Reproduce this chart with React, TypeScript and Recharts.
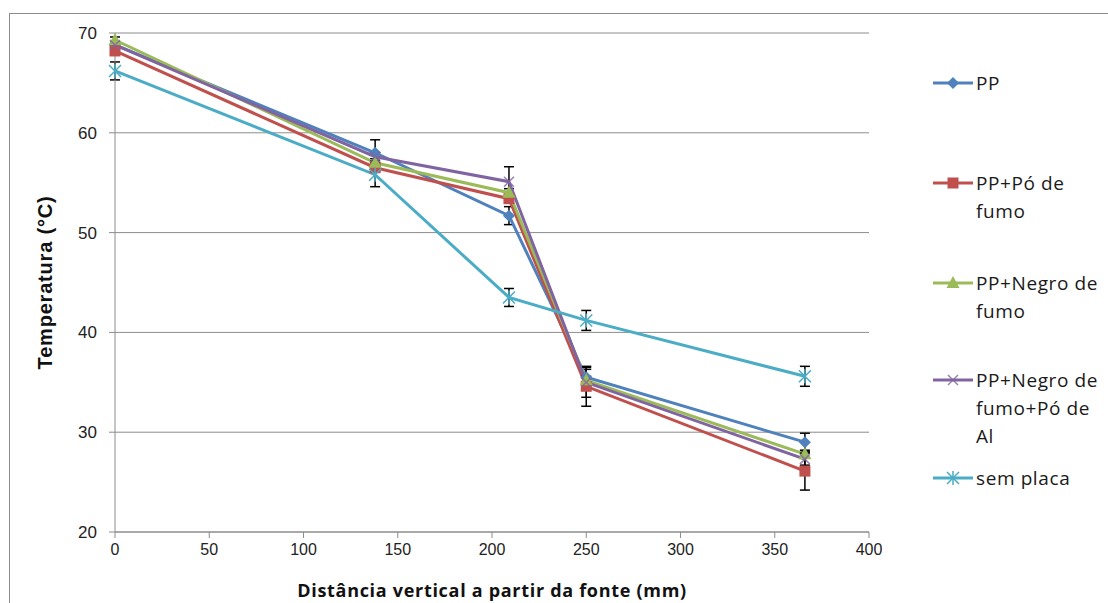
import React from 'react'
import {
  LineChart,
  Line,
  XAxis,
  YAxis,
  CartesianGrid,
  ErrorBar,
} from 'recharts'

const distances = [0, 138, 209, 250, 366]

const pp = [68.8, 58.0, 51.7, 35.5, 29.0]
const ppPo = [68.2, 56.5, 53.4, 34.6, 26.1]
const ppNegro = [69.3, 57.0, 54.0, 35.2, 27.8]
const ppNegroAl = [68.8, 57.6, 55.1, 35.0, 27.3]
const semPlaca = [66.2, 55.8, 43.5, 41.2, 35.6]

const ppErr = [0.3, 1.3, 0.9, 0.8, 0.9]
const ppPoErr = [0.3, 0.4, 0.4, 2.0, 1.9]
const ppNegroErr = [0.3, 0.4, 0.4, 0.4, 0.4]
const ppNegroAlErr = [0.3, 0.4, 1.5, 1.5, 0.6]
const semPlacaErr = [0.9, 1.2, 0.9, 1.0, 1.0]

const xTicks = [0, 50, 100, 150, 200, 250, 300, 350, 400]
const yTicks = [20, 30, 40, 50, 60, 70]

const SERIES = [
  { key: 'pp', label: 'PP', color: '#4F81BD', marker: 'diamond', values: pp, err: ppErr, top: 69 },
  { key: 'ppPo', label: 'PP+Pó de\nfumo', color: '#C0504D', marker: 'square', values: ppPo, err: ppPoErr, top: 169 },
  { key: 'ppNegro', label: 'PP+Negro de\nfumo', color: '#9BBB59', marker: 'triangle', values: ppNegro, err: ppNegroErr, top: 269 },
  { key: 'ppNegroAl', label: 'PP+Negro de\nfumo+Pó de\nAl', color: '#8064A2', marker: 'cross', values: ppNegroAl, err: ppNegroAlErr, top: 366 },
  { key: 'semPlaca', label: 'sem placa', color: '#4BACC6', marker: 'star', values: semPlaca, err: semPlacaErr, top: 464 },
]

const data = distances.map((x, i) => {
  const row: Record<string, number> = { x }
  SERIES.forEach((s) => {
    row[s.key] = s.values[i]
    row[s.key + 'Err'] = s.err[i]
  })
  return row
})

const Marker = ({ cx, cy, marker, color }: any) => {
  if (cx == null || cy == null) return null
  switch (marker) {
    case 'diamond':
      return (
        <polygon
          points={`${cx},${cy - 6} ${cx + 6},${cy} ${cx},${cy + 6} ${cx - 6},${cy}`}
          fill={color}
        />
      )
    case 'square':
      return <rect x={cx - 5.5} y={cy - 5.5} width={11} height={11} fill={color} />
    case 'triangle':
      return (
        <polygon
          points={`${cx},${cy - 7} ${cx + 6.5},${cy + 5} ${cx - 6.5},${cy + 5}`}
          fill={color}
        />
      )
    case 'cross':
      return (
        <g stroke={color} strokeWidth={1.5} opacity={0.8}>
          <line x1={cx - 5} y1={cy - 5} x2={cx + 5} y2={cy + 5} />
          <line x1={cx - 5} y1={cy + 5} x2={cx + 5} y2={cy - 5} />
        </g>
      )
    default:
      return (
        <g stroke={color} strokeWidth={1.5}>
          <line x1={cx - 6} y1={cy - 6} x2={cx + 6} y2={cy + 6} />
          <line x1={cx - 6} y1={cy + 6} x2={cx + 6} y2={cy - 6} />
          <line x1={cx} y1={cy - 7} x2={cx} y2={cy + 7} />
        </g>
      )
  }
}

const LegendBox = () => (
  <div style={{ position: 'absolute', left: 930, top: 0 }}>
    {SERIES.map((s) => (
      <div
        key={s.key}
        style={{ position: 'absolute', top: s.top, left: 0, display: 'flex', alignItems: 'flex-start' }}
      >
        <svg width={46} height={28} style={{ flexShrink: 0 }}>
          <line x1={3} y1={14} x2={43} y2={14} stroke={s.color} strokeWidth={3} />
          <Marker cx={23} cy={14} marker={s.marker} color={s.color} />
        </svg>
        <div
          style={{
            whiteSpace: 'pre',
            fontFamily: '"Open Sans", Lato, sans-serif',
            fontSize: 19,
            letterSpacing: 0.6,
            lineHeight: '28px',
            color: '#1a1a1a',
          }}
        >
          {s.label}
        </div>
      </div>
    ))}
  </div>
)

export default function App() {
  return (
    <div
      style={{
        position: 'absolute',
        left: 0,
        top: 0,
        width: 1108,
        height: 603,
        overflow: 'hidden',
        background: '#ffffff',
      }}
    >
      <div
        style={{
          position: 'absolute',
          left: 9,
          top: 13,
          width: 1200,
          height: 700,
          border: '1.5px solid #8c8c8c',
        }}
      />
      <LineChart
        width={1108}
        height={603}
        data={data}
        margin={{ top: 33, right: 239, bottom: 0, left: 0 }}
      >
        <CartesianGrid vertical={false} stroke="#8c8c8c" />
        <XAxis
          type="number"
          dataKey="x"
          domain={[0, 400]}
          ticks={xTicks}
          height={71}
          stroke="#8c8c8c"
          tickSize={6}
          tickMargin={6}
          tick={{ fill: '#222', fontSize: 16, fontFamily: '"Liberation Sans Narrow", "Arial Narrow", sans-serif' }}
          label={{
            value: 'Distância vertical a partir da fonte (mm)',
            position: 'insideBottom',
            offset: 6,
            style: {
              fill: '#111',
              fontSize: 18,
              letterSpacing: 0.7,
              fontWeight: 'bold',
              fontFamily: '"Open Sans", sans-serif',
            },
          }}
        />
        <YAxis
          type="number"
          domain={[20, 70]}
          ticks={yTicks}
          width={115}
          stroke="#8c8c8c"
          tickSize={6}
          tickMargin={12}
          tick={{ fill: '#222', fontSize: 17, fontFamily: '"Liberation Sans", Arial, sans-serif' }}
          label={{
            value: 'Temperatura (°C)',
            angle: -90,
            position: 'insideLeft',
            offset: 45,
            style: {
              textAnchor: 'middle',
              fill: '#111',
              fontSize: 20,
              letterSpacing: 0.8,
              fontWeight: 'bold',
              fontFamily: '"Liberation Sans", Arial, sans-serif',
            },
          }}
        />
        {SERIES.map((s) => (
          <Line
            key={s.key}
            type="linear"
            dataKey={s.key}
            stroke={s.color}
            strokeWidth={3}
            isAnimationActive={false}
            dot={(props: any) => (
              <Marker key={`${s.key}-${props.index}`} cx={props.cx} cy={props.cy} marker={s.marker} color={s.color} />
            )}
            activeDot={false}
          >
            <ErrorBar dataKey={s.key + 'Err'} width={5} stroke="#000" strokeWidth={1.5} direction="y" />
          </Line>
        ))}
      </LineChart>
      <LegendBox />
    </div>
  )
}
